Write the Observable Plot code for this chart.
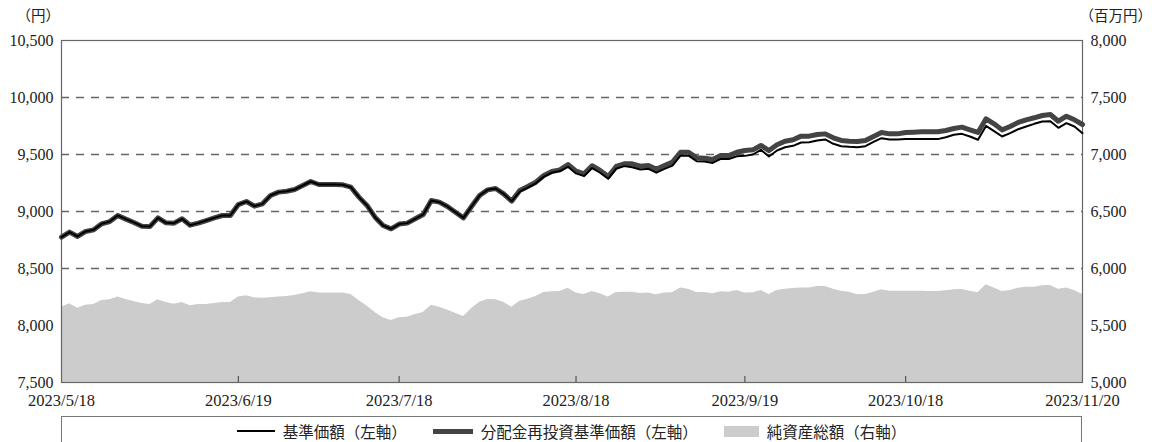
<!DOCTYPE html>
<html>
<head>
<meta charset="utf-8">
<script src="https://cdn.jsdelivr.net/npm/d3@7"></script>
<script src="https://cdn.jsdelivr.net/npm/@observablehq/plot@0.6"></script>
<style>
  html, body { margin: 0; padding: 0; background: #fff; }
  #wrap { position: relative; width: 1152px; height: 442px; overflow: hidden; font-family: "Liberation Serif", "Noto Sans CJK JP", serif; }
  .unit { position: absolute; top: 6px; font-family: "Noto Sans CJK JP", sans-serif; font-size: 14.5px; line-height: 18px; color: #222; white-space: nowrap; }
  #legend { position: absolute; left: 61px; top: 416px; width: 1021px; height: 30px; box-sizing: border-box; border: 1px solid #777;
    display: flex; justify-content: center; align-items: center; gap: 26px;
    font-family: "Noto Sans CJK JP", sans-serif; font-size: 15.5px; line-height: 17px; color: #222; }
  .item { display: flex; align-items: center; gap: 8px; }
  .sw { display: inline-block; }
</style>
</head>
<body>
<div id="wrap">
  <div id="chart"></div>
  <div class="unit" style="right: 1092px;">（円）</div>
  <div class="unit" style="right: 0px;">（百万円）</div>
  <div id="legend"></div>
</div>
<script>
// 分配金再投資基準価額（左軸, 円）
const reinvest = [8775,8819,8781,8825,8839,8892,8912,8965,8933,8904,8871,8868,8944,8901,8898,8936,8880,8898,8921,8944,
8965,8965,9061,9088,9047,9067,9140,9170,9178,9193,9228,9263,9237,9237,9237,9234,9213,9126,9053,8950,
8877,8848,8890,8898,8936,8974,9096,9082,9044,8994,8944,9044,9140,9190,9202,9155,9091,9184,9219,9257,
9316,9351,9365,9412,9354,9330,9401,9360,9307,9395,9418,9418,9398,9404,9371,9404,9433,9520,9520,9471,
9468,9456,9491,9491,9520,9535,9541,9579,9535,9585,9617,9629,9661,9661,9675,9681,9646,9623,9617,9614,
9623,9658,9693,9681,9681,9693,9696,9699,9699,9699,9711,9728,9740,9716,9693,9813,9769,9716,9746,9781,
9804,9822,9842,9851,9792,9836,9804,9763];
// 基準価額（左軸, 円）
const nav = [8775,8819,8781,8825,8839,8892,8912,8965,8933,8904,8871,8868,8944,8901,8898,8936,8880,8898,8921,8944,
8965,8965,9061,9088,9047,9067,9140,9170,9178,9193,9228,9263,9237,9237,9237,9234,9213,9126,9053,8950,
8877,8848,8890,8898,8936,8974,9096,9082,9044,8994,8944,9044,9140,9190,9202,9155,9091,9174,9209,9247,
9306,9341,9355,9392,9334,9310,9381,9340,9287,9375,9398,9388,9368,9374,9341,9374,9403,9490,9490,9441,
9438,9426,9461,9461,9485,9488,9500,9541,9482,9535,9564,9576,9605,9608,9623,9632,9594,9573,9567,9564,
9573,9611,9643,9632,9632,9635,9635,9635,9635,9635,9652,9673,9681,9658,9629,9751,9705,9658,9687,9722,
9746,9769,9789,9792,9734,9775,9746,9687];
// 純資産総額（右軸, 百万円）
const netAssets = [5661,5690,5652,5678,5684,5719,5725,5749,5728,5711,5693,5684,5725,5702,5687,5702,5673,5684,5684,5693,
5702,5702,5749,5760,5743,5740,5743,5751,5754,5763,5778,5795,5784,5784,5784,5784,5772,5719,5670,5614,
5567,5544,5567,5573,5596,5614,5678,5661,5637,5608,5579,5646,5705,5728,5725,5705,5661,5713,5731,5754,
5789,5795,5798,5827,5784,5772,5798,5778,5749,5789,5792,5792,5781,5784,5769,5784,5787,5830,5819,5789,
5789,5778,5795,5792,5807,5784,5787,5807,5772,5807,5819,5825,5830,5830,5842,5842,5819,5801,5792,5769,
5772,5792,5813,5801,5801,5801,5801,5801,5798,5798,5804,5813,5816,5801,5787,5857,5830,5798,5807,5827,
5836,5836,5848,5851,5819,5830,5807,5772];

const tickIdx = [0, 22, 42, 64, 85, 105, 127];
const tickLabels = ["2023/5/18","2023/6/19","2023/7/18","2023/8/18","2023/9/19","2023/10/18","2023/11/20"];
const leftTicks = [7500, 8000, 8500, 9000, 9500, 10000, 10500];
const rightTicks = [5000, 5500, 6000, 6500, 7000, 7500, 8000];
const gridTicks = [8000, 8500, 9000, 9500, 10000];

const offset = leftTicks[0] - rightTicks[0]; // right axis → left axis units
const rows = reinvest.map((v, i) => ({i, reinvest: v, nav: nav[i], assets: netAssets[i] + offset}));
const fmt = d3.format(",");

const chart = Plot.plot({
  width: 1152, height: 410,
  marginTop: 40, marginBottom: 28, marginLeft: 61, marginRight: 70,
  style: {fontFamily: "'Liberation Serif', serif", fontSize: "16px", color: "#222", background: "transparent"},
  x: {type: "linear", domain: [0, reinvest.length - 1]},
  y: {domain: [leftTicks[0], leftTicks[leftTicks.length - 1]]},
  marks: [
    Plot.gridY(gridTicks, {stroke: "#666", strokeOpacity: 1, strokeWidth: 1.5, strokeDasharray: "8,7"}),
    Plot.areaY(rows, {x: "i", y1: leftTicks[0], y2: "assets", fill: "#cccccc"}),
    Plot.tickX(tickIdx.slice(1, -1), {x: d => d, insetTop: 336, stroke: "#555", strokeWidth: 1.2}),
    Plot.frame({stroke: "#666", strokeWidth: 1.2}),
    Plot.lineY(rows, {x: "i", y: "reinvest", stroke: "#444", strokeWidth: 5}),
    Plot.lineY(rows, {x: "i", y: "nav", stroke: "#000", strokeWidth: 2}),
    Plot.axisY(leftTicks, {anchor: "left", tickSize: 0, tickPadding: 8, tickFormat: fmt, fontSize: 16, label: null}),
    Plot.axisY(leftTicks, {anchor: "right", tickSize: 0, tickPadding: 8, tickFormat: d => fmt(d - offset), fontSize: 16, label: null}),
    Plot.axisX(tickIdx, {anchor: "bottom", tickSize: 0, tickPadding: 12, tickFormat: d => tickLabels[tickIdx.indexOf(d)], fontSize: 16.5, label: null})
  ]
});
document.getElementById("chart").appendChild(chart);

const legendItems = [
  {label: "基準価額（左軸）", type: "line", color: "#000", w: 38, h: 2},
  {label: "分配金再投資基準価額（左軸）", type: "line", color: "#444", w: 40, h: 5},
  {label: "純資産総額（右軸）", type: "rect", color: "#cccccc", w: 35, h: 11}
];
const legend = document.getElementById("legend");
legendItems.forEach(it => {
  const d = document.createElement("div");
  d.className = "item";
  const s = document.createElement("span");
  s.className = "sw";
  s.style.width = it.w + "px";
  s.style.height = it.h + "px";
  s.style.background = it.color;
  const t = document.createElement("span");
  t.textContent = it.label;
  d.appendChild(s); d.appendChild(t);
  legend.appendChild(d);
});
</script>
</body>
</html>
